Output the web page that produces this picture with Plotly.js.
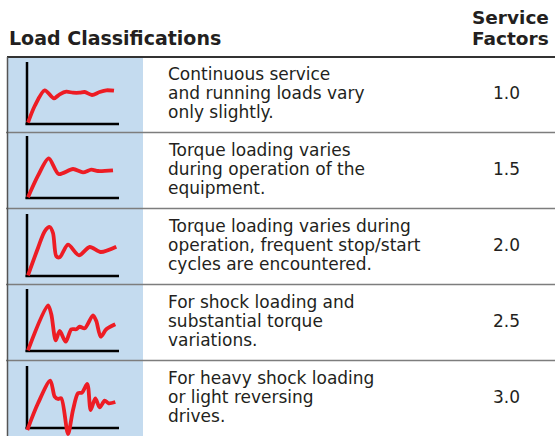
<!DOCTYPE html>
<html>
<head>
<meta charset="utf-8">
<script src="https://cdn.plot.ly/plotly-3.0.1.min.js"></script>
<style>html,body{margin:0;padding:0;background:#fff;}#chart{width:555px;height:436px;}</style>
</head>
<body>
<div id="chart"></div>
<script>
// ---- data ----
const headerLeft = "Load Classifications";
const headerRight = ["Service", "Factors"];
const descriptions = [
  ["Continuous service", "and running loads vary", "only slightly."],
  ["Torque loading varies", "during operation of the", "equipment."],
  ["Torque loading varies during", "operation, frequent stop/start", "cycles are encountered."],
  ["For shock loading and", "substantial torque", "variations."],
  ["For heavy shock loading", "or light reversing", "drives."]
];
const serviceFactors = ["1.0", "1.5", "2.0", "2.5", "3.0"];

// load curves (time, torque) for each classification
const curve1X = [1, 7.7, 17.7, 27, 32.7, 39.3, 46, 52.7, 57.7, 65, 72.7, 79.3, 87];
const curve1Y = [1.3, 18, 33.7, 25.7, 29.7, 32.3, 31.3, 31.3, 32, 29, 32, 33.7, 33.3];
const curve2X = [1, 11, 21.7, 31.7, 46, 56, 64.3, 71, 86];
const curve2Y = [0.7, 22.3, 39.7, 24, 29, 25.7, 28.3, 27, 27.7];
const curve3X = [1, 11, 17.7, 22.7, 26, 29.3, 32.7, 41, 52, 62.7, 73.7, 89.3];
const curve3Y = [0.7, 28, 44.7, 49, 43, 19.7, 18.7, 31.3, 20.7, 29, 24, 29.3];
const curve4X = [1, 21, 24.3, 28.7, 32.7, 38.7, 44.3, 49.3, 52.7, 57.7, 66, 69.3, 73.7, 79.3, 88.3];
const curve4Y = [0.7, 45.7, 36.7, 10.7, 20, 9.3, 21.7, 21.7, 24.3, 22.7, 35.7, 30, 14.3, 21.7, 26.7];
const curve5X = [0.3, 11, 23.3, 27.7, 31, 34.3, 41, 46, 51, 55, 60.3, 63.7, 68.3, 72.7, 77.7, 81.7, 88.3];
const curve5Y = [-2, 24.7, 47.3, 31.3, 29, 29.7, -6, 18, 34.7, 35.3, 44, 18, 29.7, 20.7, 27.3, 24.7, 26];
const curvesX = [curve1X, curve2X, curve3X, curve4X, curve5X];
const curvesY = [curve1Y, curve2Y, curve3Y, curve4Y, curve5Y];

// ---- layout geometry (pixels) ----
const W = 555, H = 436;
const px = x => x / W;
const py = y => 1 - y / H;
const rowTops = [57, 132.5, 208.5, 284.5, 360.5];
const rowBottoms = [132.5, 208.5, 284.5, 360.5, 436];
const baselines = [124, 198, 276, 351, 428];
const textColor = "#231f20";
const font = "DejaVu Sans, Liberation Sans, Arial, sans-serif";

const traces = [];
const layout = {
  width: W, height: H,
  margin: {l: 0, r: 0, t: 0, b: 0},
  paper_bgcolor: "#ffffff",
  plot_bgcolor: "rgba(0,0,0,0)",
  showlegend: false,
  shapes: [],
  annotations: []
};

// blue column
layout.shapes.push({type: "rect", xref: "paper", yref: "paper", x0: px(8), x1: px(143), y0: py(436), y1: py(57),
  fillcolor: "#c4dbef", line: {width: 0}, layer: "below"});
// row separators
for (let i = 1; i < rowTops.length; i++) {
  layout.shapes.push({type: "line", xref: "paper", yref: "paper", x0: px(6), x1: px(555), y0: py(rowTops[i]), y1: py(rowTops[i]),
    line: {color: "#7d7d7d", width: 1.5}, layer: "below"});
}
// top rule and left border
layout.shapes.push({type: "line", xref: "paper", yref: "paper", x0: px(7), x1: px(555), y0: py(57), y1: py(57),
  line: {color: "#333333", width: 2}, layer: "below"});
layout.shapes.push({type: "line", xref: "paper", yref: "paper", x0: px(7.5), x1: px(7.5), y0: py(436), y1: py(57),
  line: {color: "#555555", width: 1.5}, layer: "below"});

// mini charts
curvesX.forEach((cx, i) => {
  const n = i === 0 ? "" : String(i + 1);
  const yb = baselines[i];
  layout["xaxis" + n] = {domain: [px(25), px(119)], range: [-2, 92], visible: false, fixedrange: true, anchor: "y" + n};
  layout["yaxis" + n] = {domain: [py(yb + 8), py(yb - 64)], range: [-8, 64], visible: false, fixedrange: true, anchor: "x" + n};
  layout.shapes.push({type: "line", xref: "x" + n, yref: "y" + n, x0: 0, x1: 0, y0: -1, y1: 62,
    line: {color: "#000000", width: 2.5}, layer: "below"});
  layout.shapes.push({type: "line", xref: "x" + n, yref: "y" + n, x0: -1.5, x1: 92, y0: 0, y1: 0,
    line: {color: "#000000", width: 2.5}, layer: "below"});
  traces.push({type: "scatter", mode: "lines", x: cx, y: curvesY[i], xaxis: "x" + n, yaxis: "y" + n,
    line: {color: "#ed1c24", width: 3.8, shape: "spline", smoothing: 0.8}, hoverinfo: "skip"});
});

// header
layout.annotations.push({xref: "paper", yref: "paper", x: px(7), y: py(38), xanchor: "left", yanchor: "middle",
  text: "<b>" + headerLeft + "</b>", showarrow: false, font: {family: font, size: 19, color: textColor}});
headerRight.forEach((t, k) => {
  layout.annotations.push({xref: "paper", yref: "paper", x: px(551), y: py(17.25 + 21 * k), xanchor: "right", yanchor: "middle",
    text: "<b>" + t + "</b>", showarrow: false, font: {family: font, size: 18.5, color: textColor}});
});

// rows text
descriptions.forEach((lines, i) => {
  const c = (rowTops[i] + rowBottoms[i]) / 2;
  lines.forEach((t, k) => {
    layout.annotations.push({xref: "paper", yref: "paper", x: px(166), y: py(c - 1.5 + (k - 1) * 19), xanchor: "left", yanchor: "middle",
      text: t, showarrow: false, font: {family: font, size: 17, color: textColor}});
  });
  layout.annotations.push({xref: "paper", yref: "paper", x: px(506), y: py(c - 1.5), xanchor: "center", yanchor: "middle",
    text: serviceFactors[i], showarrow: false, font: {family: font, size: 17, color: textColor}});
});

Plotly.newPlot("chart", traces, layout, {displayModeBar: false, staticPlot: true});
</script>
</body>
</html>
